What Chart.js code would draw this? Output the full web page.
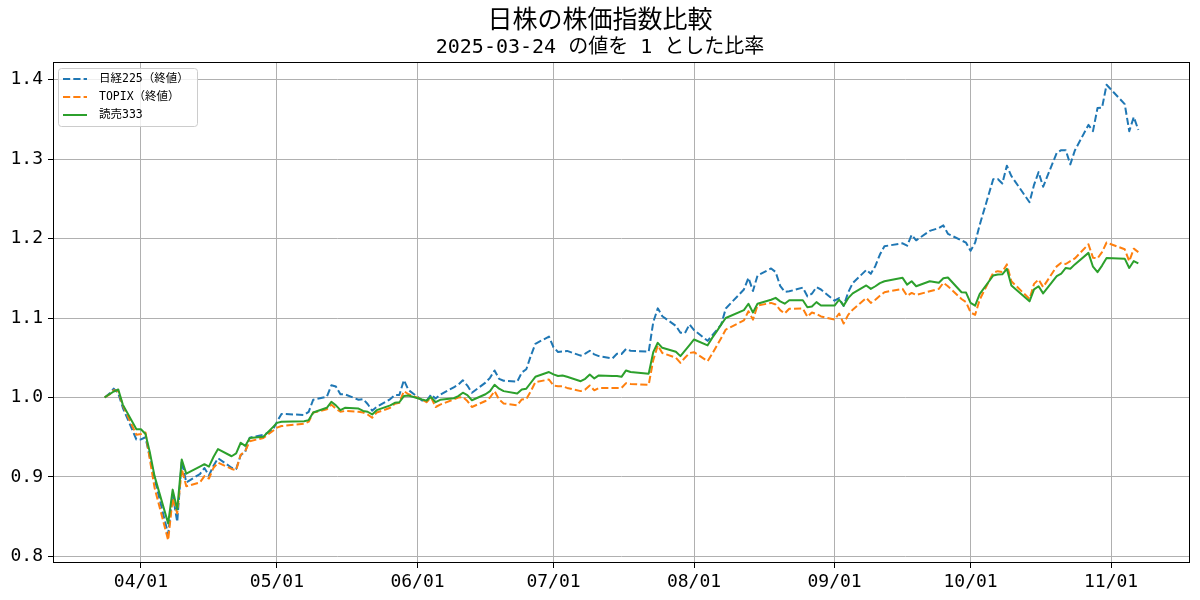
<!DOCTYPE html>
<html>
<head>
<meta charset="utf-8">
<script src="https://cdn.jsdelivr.net/npm/chart.js@4.4.1/dist/chart.umd.min.js"></script>
<style>
html, body { margin: 0; padding: 0; background: #ffffff; }
#wrap { width: 1200px; height: 600px; }
</style>
</head>
<body>
<div id="wrap"><canvas id="c" width="1200" height="600"></canvas></div>
<script>
// ---- data ----
const dates = [
 '2025-03-24','2025-03-25','2025-03-26','2025-03-27','2025-03-28','2025-03-31',
 '2025-04-01','2025-04-02','2025-04-03','2025-04-04','2025-04-07','2025-04-08','2025-04-09','2025-04-10','2025-04-11',
 '2025-04-14','2025-04-15','2025-04-16','2025-04-17','2025-04-18','2025-04-21','2025-04-22','2025-04-23','2025-04-24','2025-04-25',
 '2025-04-28','2025-04-30',
 '2025-05-01','2025-05-02','2025-05-07','2025-05-08','2025-05-09','2025-05-12','2025-05-13','2025-05-14','2025-05-15','2025-05-16',
 '2025-05-19','2025-05-20','2025-05-21','2025-05-22','2025-05-23','2025-05-26','2025-05-27','2025-05-28','2025-05-29','2025-05-30',
 '2025-06-02','2025-06-03','2025-06-04','2025-06-05','2025-06-06','2025-06-09','2025-06-10','2025-06-11','2025-06-12','2025-06-13',
 '2025-06-16','2025-06-17','2025-06-18','2025-06-19','2025-06-20','2025-06-23','2025-06-24','2025-06-25','2025-06-26','2025-06-27','2025-06-30',
 '2025-07-01','2025-07-02','2025-07-03','2025-07-04','2025-07-07','2025-07-08','2025-07-09','2025-07-10','2025-07-11',
 '2025-07-14','2025-07-15','2025-07-16','2025-07-17','2025-07-18','2025-07-22','2025-07-23','2025-07-24','2025-07-25',
 '2025-07-28','2025-07-29','2025-07-30','2025-07-31',
 '2025-08-01','2025-08-04','2025-08-05','2025-08-06','2025-08-07','2025-08-08','2025-08-12','2025-08-13','2025-08-14','2025-08-15',
 '2025-08-18','2025-08-19','2025-08-20','2025-08-21','2025-08-22','2025-08-25','2025-08-26','2025-08-27','2025-08-28','2025-08-29',
 '2025-09-01','2025-09-02','2025-09-03','2025-09-04','2025-09-05','2025-09-08','2025-09-09','2025-09-10','2025-09-11','2025-09-12',
 '2025-09-16','2025-09-17','2025-09-18','2025-09-19','2025-09-22','2025-09-24','2025-09-25','2025-09-26','2025-09-29','2025-09-30',
 '2025-10-01','2025-10-02','2025-10-03','2025-10-06','2025-10-07','2025-10-08','2025-10-09','2025-10-10',
 '2025-10-14','2025-10-15','2025-10-16','2025-10-17','2025-10-20','2025-10-21','2025-10-22','2025-10-23','2025-10-24',
 '2025-10-27','2025-10-28','2025-10-29','2025-10-30','2025-10-31',
 '2025-11-04','2025-11-05','2025-11-06','2025-11-07'
];

const nikkei = [
 1.0000,1.0046,1.0111,1.0051,0.9870,0.9471,
 0.9472,0.9499,0.9236,0.8982,0.8279,0.8778,0.8433,0.9202,0.8930,
 0.9036,0.9112,0.9019,0.9141,0.9235,0.9115,0.9099,0.9272,0.9317,0.9494,
 0.9530,0.9584,
 0.9693,0.9793,0.9780,0.9819,0.9972,1.0010,1.0153,1.0138,1.0039,1.0039,
 0.9971,0.9979,0.9918,0.9834,0.9881,0.9980,1.0031,1.0030,1.0219,1.0095,
 0.9963,0.9957,1.0037,0.9986,1.0035,1.0128,1.0160,1.0216,1.0150,1.0060,
 1.0187,1.0247,1.0340,1.0234,1.0211,1.0198,1.0314,1.0355,1.0525,1.0676,1.0766,
 1.0632,1.0573,1.0579,1.0586,1.0526,1.0553,1.0588,1.0542,1.0521,
 1.0492,1.0550,1.0547,1.0610,1.0588,1.0576,1.0947,1.1122,1.1023,
 1.0901,1.0815,1.0810,1.0920,
 1.0849,1.0713,1.0782,1.0847,1.0918,1.1120,1.1359,1.1507,1.1340,1.1534,
 1.1624,1.1579,1.1404,1.1330,1.1336,1.1383,1.1273,1.1306,1.1388,1.1359,
 1.1218,1.1250,1.1152,1.1322,1.1439,1.1605,1.1556,1.1656,1.1799,1.1904,
 1.1940,1.1910,1.2046,1.1978,1.2097,1.2133,1.2166,1.2060,1.1977,1.1948,
 1.1846,1.1949,1.2170,1.2748,1.2750,1.2693,1.2917,1.2787,
 1.2457,1.2676,1.2837,1.2652,1.3078,1.3113,1.3111,1.2934,1.3109,
 1.3431,1.3353,1.3643,1.3648,1.3936,
 1.3693,1.3352,1.3530,1.3368
];

const topix = [
 1.0000,1.0035,1.0090,1.0080,0.9900,0.9530,
 0.9540,0.9560,0.9206,0.8865,0.8203,0.8732,0.8540,0.9100,0.8882,
 0.8930,0.9010,0.8980,0.9115,0.9180,0.9100,0.9085,0.9280,0.9325,0.9450,
 0.9490,0.9575,
 0.9620,0.9640,0.9670,0.9695,0.9810,0.9850,0.9910,0.9857,0.9820,0.9830,
 0.9820,0.9810,0.9786,0.9745,0.9810,0.9870,0.9920,0.9933,1.0080,1.0040,
 0.9975,0.9940,1.0000,0.9880,0.9910,0.9975,1.0000,1.0005,0.9955,0.9880,
 0.9955,1.0000,1.0080,0.9975,0.9925,0.9900,0.9975,0.9980,1.0080,1.0193,1.0226,
 1.0150,1.0142,1.0142,1.0120,1.0080,1.0100,1.0150,1.0090,1.0120,
 1.0120,1.0120,1.0120,1.0180,1.0170,1.0160,1.0470,1.0654,1.0560,
 1.0500,1.0436,1.0500,1.0560,
 1.0570,1.0457,1.0550,1.0650,1.0750,1.0855,1.0970,1.1086,1.0980,1.1157,
 1.1190,1.1170,1.1100,1.1057,1.1116,1.1120,1.1015,1.1070,1.1050,1.1020,
 1.0980,1.1057,1.0930,1.1040,1.1105,1.1253,1.1190,1.1230,1.1280,1.1325,
 1.1367,1.1280,1.1316,1.1290,1.1337,1.1367,1.1443,1.1400,1.1240,1.1200,
 1.1070,1.1040,1.1230,1.1570,1.1590,1.1580,1.1675,1.1463,
 1.1240,1.1430,1.1485,1.1390,1.1650,1.1696,1.1680,1.1716,1.1750,
 1.1928,1.1760,1.1750,1.1830,1.1950,
 1.1865,1.1716,1.1873,1.1830
];

const yomiuri = [
 1.0000,1.0040,1.0075,1.0100,0.9910,0.9600,
 0.9600,0.9540,0.9300,0.9010,0.8415,0.8840,0.8590,0.9220,0.9040,
 0.9130,0.9160,0.9130,0.9250,0.9350,0.9260,0.9295,0.9430,0.9390,0.9490,
 0.9505,0.9620,
 0.9680,0.9695,0.9700,0.9715,0.9810,0.9870,0.9945,0.9900,0.9840,0.9870,
 0.9860,0.9830,0.9820,0.9786,0.9840,0.9900,0.9933,0.9940,1.0017,1.0025,
 0.9975,0.9960,1.0005,0.9940,0.9970,0.9990,1.0017,1.0060,1.0030,0.9965,
 1.0040,1.0080,1.0160,1.0110,1.0080,1.0050,1.0100,1.0110,1.0185,1.0260,1.0320,
 1.0290,1.0270,1.0277,1.0260,1.0205,1.0235,1.0290,1.0240,1.0277,
 1.0270,1.0270,1.0260,1.0340,1.0320,1.0300,1.0570,1.0688,1.0625,
 1.0575,1.0520,1.0590,1.0660,
 1.0730,1.0656,1.0750,1.0830,1.0920,1.1000,1.1100,1.1180,1.1070,1.1180,
 1.1230,1.1254,1.1210,1.1180,1.1224,1.1224,1.1136,1.1145,1.1200,1.1157,
 1.1157,1.1230,1.1156,1.1250,1.1310,1.1410,1.1367,1.1400,1.1440,1.1463,
 1.1506,1.1420,1.1463,1.1400,1.1463,1.1443,1.1500,1.1510,1.1325,1.1320,
 1.1190,1.1156,1.1300,1.1535,1.1548,1.1550,1.1620,1.1410,
 1.1210,1.1360,1.1400,1.1310,1.1527,1.1560,1.1630,1.1620,1.1675,
 1.1820,1.1646,1.1577,1.1660,1.1755,
 1.1747,1.1630,1.1717,1.1687
];

const seriesNames = ['日経225（終値）', 'TOPIX（終値）', '読売333'];
const monthTicks = ['2025-04-01','2025-05-01','2025-06-01','2025-07-01','2025-08-01','2025-09-01','2025-10-01','2025-11-01'];
const yTicks = [0.8, 0.9, 1.0, 1.1, 1.2, 1.3, 1.4];
const titleText = '日株の株価指数比較';
const subtitleText = '2025-03-24 の値を 1 とした比率';

// ---- helpers ----
const FONT = "'DejaVu Sans Mono', 'Noto Sans CJK JP', monospace";
function dayNum(s) {
  const p = s.split('-').map(Number);
  return Date.UTC(p[0], p[1] - 1, p[2]) / 86400000;
}
function fmtDay(v) {
  const d = new Date(Math.round(v) * 86400000);
  const mm = String(d.getUTCMonth() + 1).padStart(2, '0');
  const dd = String(d.getUTCDate()).padStart(2, '0');
  return mm + '/' + dd;
}
function pts(arr) { return dates.map((d, i) => ({ x: dayNum(d), y: arr[i] })); }

const xs = dates.map(dayNum);
const xMin0 = Math.min(...xs), xMax0 = Math.max(...xs);
const xPad = (xMax0 - xMin0) * 0.05;
const allY = nikkei.concat(topix, yomiuri);
const yMin0 = Math.min(...allY), yMax0 = Math.max(...allY);
const yPad = (yMax0 - yMin0) * 0.05;

const LINE_W = 2;
const legendPlugin = {
  id: 'insideLegend',
  afterDraw(chart) {
    const ctx = chart.ctx;
    ctx.save();
    const x0 = 58.5, y0 = 68.5, w = 139, h = 58, r = 3;
    ctx.beginPath();
    ctx.moveTo(x0 + r, y0);
    ctx.lineTo(x0 + w - r, y0); ctx.arcTo(x0 + w, y0, x0 + w, y0 + r, r);
    ctx.lineTo(x0 + w, y0 + h - r); ctx.arcTo(x0 + w, y0 + h, x0 + w - r, y0 + h, r);
    ctx.lineTo(x0 + r, y0 + h); ctx.arcTo(x0, y0 + h, x0, y0 + h - r, r);
    ctx.lineTo(x0, y0 + r); ctx.arcTo(x0, y0, x0 + r, y0, r);
    ctx.closePath();
    ctx.fillStyle = 'rgba(255,255,255,0.8)';
    ctx.fill();
    ctx.strokeStyle = '#cccccc';
    ctx.lineWidth = 1;
    ctx.stroke();
    chart.data.datasets.forEach((ds, i) => {
      const y = 79 + i * 18;
      ctx.beginPath();
      ctx.setLineDash(ds.borderDash || []);
      ctx.strokeStyle = ds.borderColor;
      ctx.lineWidth = LINE_W;
      ctx.moveTo(63, y); ctx.lineTo(87, y);
      ctx.stroke();
      ctx.setLineDash([]);
      ctx.fillStyle = '#000000';
      ctx.font = '11.5px ' + FONT;
      ctx.textBaseline = 'middle';
      ctx.textAlign = 'left';
      ctx.fillText(ds.label, 99, y + 0.5);
    });
    ctx.restore();
  }
};

const framePlugin = {
  id: 'frame',
  afterDatasetsDraw(chart) {
    const a = chart.chartArea, ctx = chart.ctx;
    ctx.save();
    ctx.strokeStyle = '#000000';
    ctx.lineWidth = 1;
    ctx.strokeRect(Math.round(a.left) + 0.5, Math.round(a.top) + 0.5,
                   Math.round(a.right - a.left) - 1, Math.round(a.bottom - a.top) - 1);
    ctx.restore();
  }
};

const colors = ['#1f77b4', '#ff7f0e', '#2ca02c'];
const dashes = [[7.2, 3.1], [7.2, 3.1], []];
const series = [nikkei, topix, yomiuri];

new Chart(document.getElementById('c'), {
  type: 'line',
  data: {
    datasets: series.map((s, i) => ({
      label: seriesNames[i],
      data: pts(s),
      borderColor: colors[i],
      backgroundColor: colors[i],
      borderDash: dashes[i],
      borderWidth: LINE_W,
      pointRadius: 0,
      tension: 0,
      fill: false,
      borderJoinStyle: 'round',
      order: 3 - i
    }))
  },
  options: {
    responsive: false,
    animation: false,
    devicePixelRatio: 1,
    layout: { padding: { left: 10, right: 10, top: 0, bottom: 0 } },
    plugins: {
      legend: { display: false },
      tooltip: { enabled: false },
      title: {
        display: true, text: titleText, color: '#000000',
        font: { family: FONT, size: 25, weight: 'normal', lineHeight: 1.2 },
        padding: { top: 6, bottom: 0 }
      },
      subtitle: {
        display: true, text: subtitleText, color: '#000000',
        font: { family: FONT, size: 20, weight: 'normal', lineHeight: 1.2 },
        padding: { top: 0, bottom: 2 }
      }
    },
    scales: {
      x: {
        type: 'linear',
        min: xMin0 - xPad,
        max: xMax0 + xPad,
        afterBuildTicks: (s) => { s.ticks = monthTicks.map(m => ({ value: dayNum(m) })); },
        afterFit: (s) => { s.height = 37; },
        ticks: {
          callback: (v) => fmtDay(v),
          font: { family: FONT, size: 18 }, color: '#000000',
          padding: 4, maxRotation: 0, autoSkip: false
        },
        grid: { color: '#b0b0b0', lineWidth: 1, tickColor: '#000000', tickLength: 5, drawTicks: true },
        border: { display: false }
      },
      y: {
        type: 'linear',
        min: yMin0 - yPad,
        max: yMax0 + yPad,
        afterBuildTicks: (s) => { s.ticks = yTicks.map(v => ({ value: v })); },
        afterFit: (s) => { s.width = 43; },
        ticks: {
          callback: (v) => Number(v).toFixed(1),
          font: { family: FONT, size: 18 }, color: '#000000',
          padding: 5, autoSkip: false
        },
        grid: { color: '#b0b0b0', lineWidth: 1, tickColor: '#000000', tickLength: 5, drawTicks: true },
        border: { display: false }
      }
    }
  },
  plugins: [legendPlugin, framePlugin]
});
</script>
</body>
</html>
